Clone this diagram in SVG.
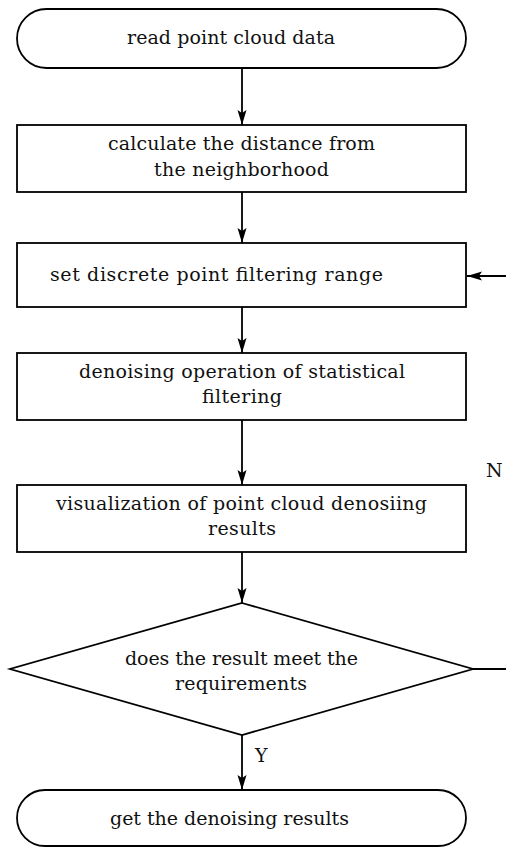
<svg xmlns="http://www.w3.org/2000/svg" width="506" height="848" viewBox="0 0 506 848">
<style>
.s{fill:#fff;stroke:#000;stroke-width:1.8}
.t{font-family:"DejaVu Serif","Liberation Serif",serif;font-size:19px;fill:#111}
.c{fill:none;stroke:#000;stroke-width:1.8}
</style>
<defs>
<marker id="ah" markerUnits="userSpaceOnUse" markerWidth="16" markerHeight="10" refX="15" refY="5" orient="auto">
<path d="M0,0.5 L15,5 L0,9.5 L3,5 Z" fill="#000"/>
</marker>
</defs>
<rect width="506" height="848" fill="#fff"/>
<g id="n1"><rect class="s" x="17" y="9" width="449" height="59" rx="29.5" ry="29.5"/>
<text class="t" x="127" y="44" textLength="208" lengthAdjust="spacing">read point cloud data</text></g>
<g id="n2"><rect class="s" x="17" y="125" width="449" height="67"/>
<text class="t" x="108" y="150" textLength="267" lengthAdjust="spacing">calculate the distance from</text>
<text class="t" x="154" y="176" textLength="175" lengthAdjust="spacing">the neighborhood</text></g>
<g id="n3"><rect class="s" x="17" y="243" width="449" height="64"/>
<text class="t" x="50" y="281" textLength="333" lengthAdjust="spacing">set discrete point filtering range</text></g>
<g id="n4"><rect class="s" x="17" y="353" width="449" height="67"/>
<text class="t" x="79" y="378" textLength="326" lengthAdjust="spacing">denoising operation of statistical</text>
<text class="t" x="202" y="403" textLength="80" lengthAdjust="spacing">filtering</text></g>
<g id="n5"><rect class="s" x="17" y="485" width="449" height="67"/>
<text class="t" x="56" y="510" textLength="371" lengthAdjust="spacing">visualization of point cloud denosiing</text>
<text class="t" x="208" y="535" textLength="68" lengthAdjust="spacing">results</text></g>
<g id="n6"><polygon class="s" points="242,603 473,669 242,735 10,669"/>
<text class="t" x="125" y="665" textLength="233" lengthAdjust="spacing">does the result meet the</text>
<text class="t" x="175" y="690" textLength="132" lengthAdjust="spacing">requirements</text></g>
<g id="n7"><rect class="s" x="17" y="790" width="449" height="56" rx="28" ry="28"/>
<text class="t" x="110" y="825" textLength="239" lengthAdjust="spacing">get the denoising results</text></g>
<g id="connectors">
<line class="c" x1="242" y1="68" x2="242" y2="125" marker-end="url(#ah)"/>
<line class="c" x1="242" y1="192" x2="242" y2="243" marker-end="url(#ah)"/>
<line class="c" x1="242" y1="307" x2="242" y2="353" marker-end="url(#ah)"/>
<line class="c" x1="242" y1="420" x2="242" y2="485" marker-end="url(#ah)"/>
<line class="c" x1="242" y1="552" x2="242" y2="603" marker-end="url(#ah)"/>
<line class="c" x1="242" y1="735" x2="242" y2="790" marker-end="url(#ah)"/>
<path class="c" d="M473,669 H512 V276 H467" marker-end="url(#ah)"/>
<text class="t" x="486" y="477">N</text>
<text class="t" x="255" y="762">Y</text>
</g>
</svg>
